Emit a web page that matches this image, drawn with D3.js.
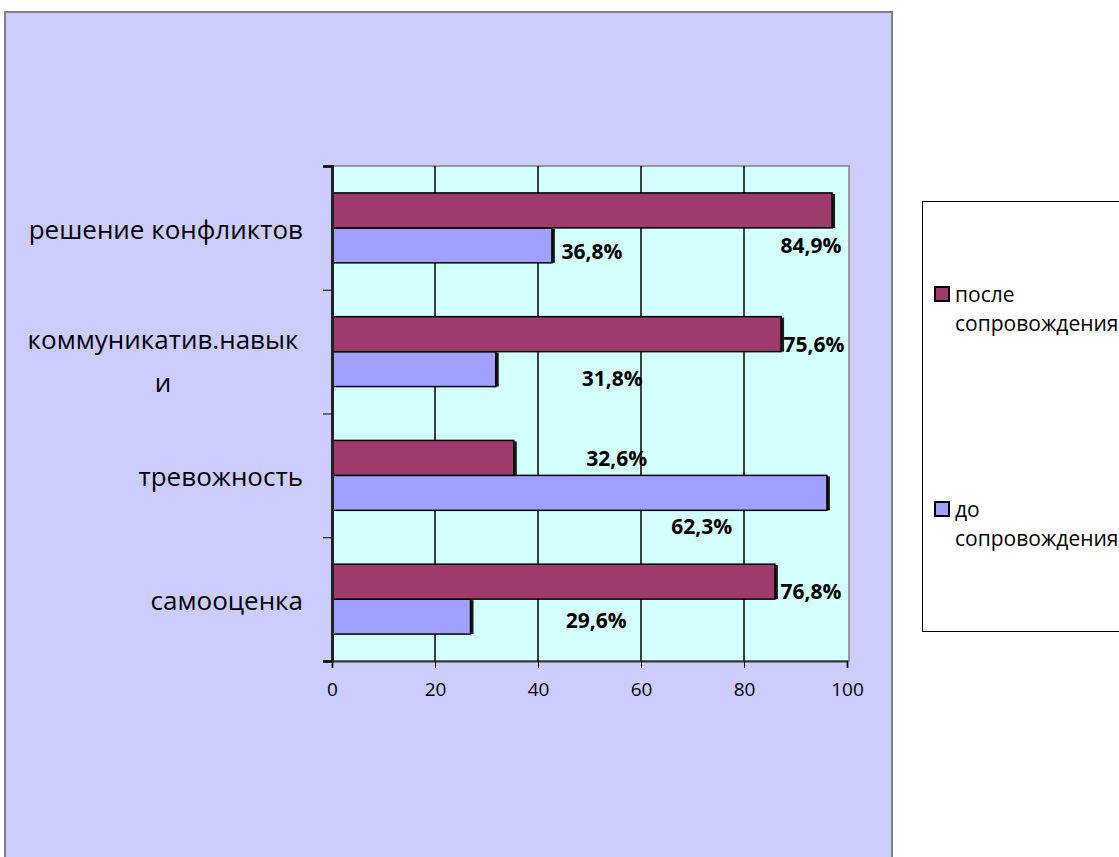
<!DOCTYPE html>
<html>
<head>
<meta charset="utf-8">
<script src="https://cdn.jsdelivr.net/npm/d3@7"></script>
<style>
  html, body { margin: 0; padding: 0; background: #fff; }
  svg { display: block; }
</style>
</head>
<body>
<div id="chart"></div>
<script>
// Categories, top to bottom as drawn
const categories = ["решение конфликтов", "коммуникатив.навыки", "тревожность", "самооценка"];
// Category labels as they wrap in the original
const categoryLines = [["решение конфликтов"], ["коммуникатив.навык", "и"], ["тревожность"], ["самооценка"]];
const seriesNames = ["после сопровождения", "до сопровождения"];
// Bar lengths
const afterValues = [97.1, 87.2, 35.3, 86.0];
const beforeValues = [42.7, 31.8, 96.1, 26.9];
// Data label texts shown on the chart
const afterLabels = ["84,9%", "75,6%", "32,6%", "76,8%"];
const beforeLabels = ["36,8%", "31,8%", "62,3%", "29,6%"];
const xTicks = [0, 20, 40, 60, 80, 100];

const COLORS = { after: "#9F3A6D", before: "#A0A0FF" };

// label placement (value units along x, px offset from bar centre along y)
const afterLabelPos = [[93.0, 35], [93.6, 10], [55.3, 0], [93.0, 9]];
const beforeLabelPos = [[50.5, 6], [54.4, 9], [71.8, 33], [51.3, 3]];

const W = 1119, H = 857;
const svg = d3.select('#chart').append('svg').attr('width', W).attr('height', H);

// chart area
svg.append('rect')
    .attr('x', 5).attr('y', 12).attr('width', 887).attr('height', 860)
    .attr('fill', '#CCCCFF').attr('stroke', '#808080').attr('stroke-width', 2);

const plot = { left: 332, right: 847, top: 166, bottom: 661 };

const x = d3.scaleLinear().domain([0, 100]).range([plot.left, plot.right]);
const y = d3.scaleBand().domain(categories).range([plot.top, plot.bottom]).padding(0);
const ySeries = d3.scaleBand().domain(['after', 'before'])
    .range([0, y.bandwidth()]).paddingInner(0).paddingOuter(0.77);

// plot background
svg.append('rect')
    .attr('x', plot.left).attr('y', plot.top)
    .attr('width', plot.right + 2 - plot.left).attr('height', plot.bottom - plot.top)
    .attr('fill', '#D4FFFF').attr('stroke', '#808080').attr('stroke-width', 1.5);

// vertical gridlines
svg.append('g').selectAll('line')
    .data(xTicks.slice(1, -1))
    .enter().append('line')
    .attr('x1', d => x(d)).attr('x2', d => x(d))
    .attr('y1', plot.top).attr('y2', plot.bottom)
    .attr('stroke', '#111').attr('stroke-width', 1.6);

// bars
const rows = categories.map((c, i) => ({
    cat: c,
    after: afterValues[i], before: beforeValues[i],
    afterLabel: afterLabels[i], beforeLabel: beforeLabels[i],
    afterPos: afterLabelPos[i], beforePos: beforeLabelPos[i]
}));

['before', 'after'].forEach(key => {
    const g = svg.append('g');
    rows.forEach(r => {
        const by = y(r.cat) + ySeries(key);
        const bh = ySeries.bandwidth();
        // depth edge
        g.append('rect')
            .attr('x', x(r[key])).attr('y', by + 1)
            .attr('width', 3).attr('height', bh - 1)
            .attr('fill', '#1a1a1a');
        g.append('rect')
            .attr('x', x(0)).attr('y', by)
            .attr('width', x(r[key]) - x(0)).attr('height', bh)
            .attr('fill', COLORS[key])
            .attr('stroke', '#000').attr('stroke-width', 1.5);
    });
});

// data labels
rows.forEach(r => {
    ['after', 'before'].forEach(key => {
        const pos = r[key + 'Pos'];
        const cy = y(r.cat) + ySeries(key) + ySeries.bandwidth() / 2 + pos[1];
        svg.append('text')
            .attr('x', x(pos[0])).attr('y', cy)
            .attr('text-anchor', 'middle').attr('dominant-baseline', 'central')
            .style('font-family', '"Open Sans", sans-serif')
            .style('font-size', '21px').style('font-weight', 'bold')
            .style('fill', '#000')
            .text(r[key + 'Label']);
    });
});

// bottom axis
const xAxis = d3.axisBottom(x).tickValues(xTicks).tickSize(7).tickPadding(15);
const gx = svg.append('g').attr('transform', `translate(0,${plot.bottom})`).call(xAxis);
gx.select('.domain').attr('stroke', '#333').attr('stroke-width', 2);
gx.selectAll('.tick line').attr('stroke', '#000');
gx.selectAll('.tick text')
    .style('font-family', '"Open Sans", sans-serif')
    .style('font-size', '19px').style('fill', '#000');

// left axis: ticks at band boundaries
const yEdge = d3.scaleLinear().domain([0, categories.length]).range([plot.top, plot.bottom]);
const yAxis = d3.axisLeft(yEdge).tickValues(d3.range(0, categories.length + 1))
    .tickSize(9).tickFormat('');
const gy = svg.append('g').attr('transform', `translate(${plot.left},0)`).call(yAxis);
gy.select('.domain').attr('stroke', '#222').attr('stroke-width', 3);
gy.selectAll('.tick line').attr('stroke', '#000');

// category labels
categories.forEach((c, i) => {
    const lines = categoryLines[i];
    const lh = 43;
    const shift = lines.length > 1 ? 9 : 1;
    const cy = y(c) + y.bandwidth() / 2 - (lines.length - 1) * lh / 2 + shift;
    const t = svg.append('text')
        .attr('x', 161).attr('y', cy)
        .attr('text-anchor', 'middle').attr('dominant-baseline', 'central')
        .style('font-family', '"Open Sans", sans-serif')
        .style('font-size', '26px').style('fill', '#000');
    lines.forEach((ln, j) => {
        t.append('tspan').attr('x', lines.length > 1 ? 163 : 303)
            .attr('y', cy + j * lh)
            .attr('text-anchor', lines.length > 1 ? 'middle' : 'end')
            .text(ln);
    });
});

// legend
const lg = svg.append('g');
lg.append('rect')
    .attr('x', 922.5).attr('y', 201.5).attr('width', 220).attr('height', 430)
    .attr('fill', '#fff').attr('stroke', '#000').attr('stroke-width', 1);
const legendItems = [
    { key: 'after', lines: ['после', 'сопровождения'], y: 294 },
    { key: 'before', lines: ['до', 'сопровождения'], y: 509 }
];
legendItems.forEach(it => {
    lg.append('rect')
        .attr('x', 935).attr('y', it.y - 7).attr('width', 14).attr('height', 14)
        .attr('fill', COLORS[it.key]).attr('stroke', '#000').attr('stroke-width', 2);
    it.lines.forEach((ln, j) => {
        lg.append('text')
            .attr('x', 955).attr('y', it.y + j * 29)
            .attr('dominant-baseline', 'central')
            .style('font-family', '"Open Sans", sans-serif')
            .style('font-size', '21px').style('fill', '#000')
            .text(ln);
    });
});
</script>
</body>
</html>
